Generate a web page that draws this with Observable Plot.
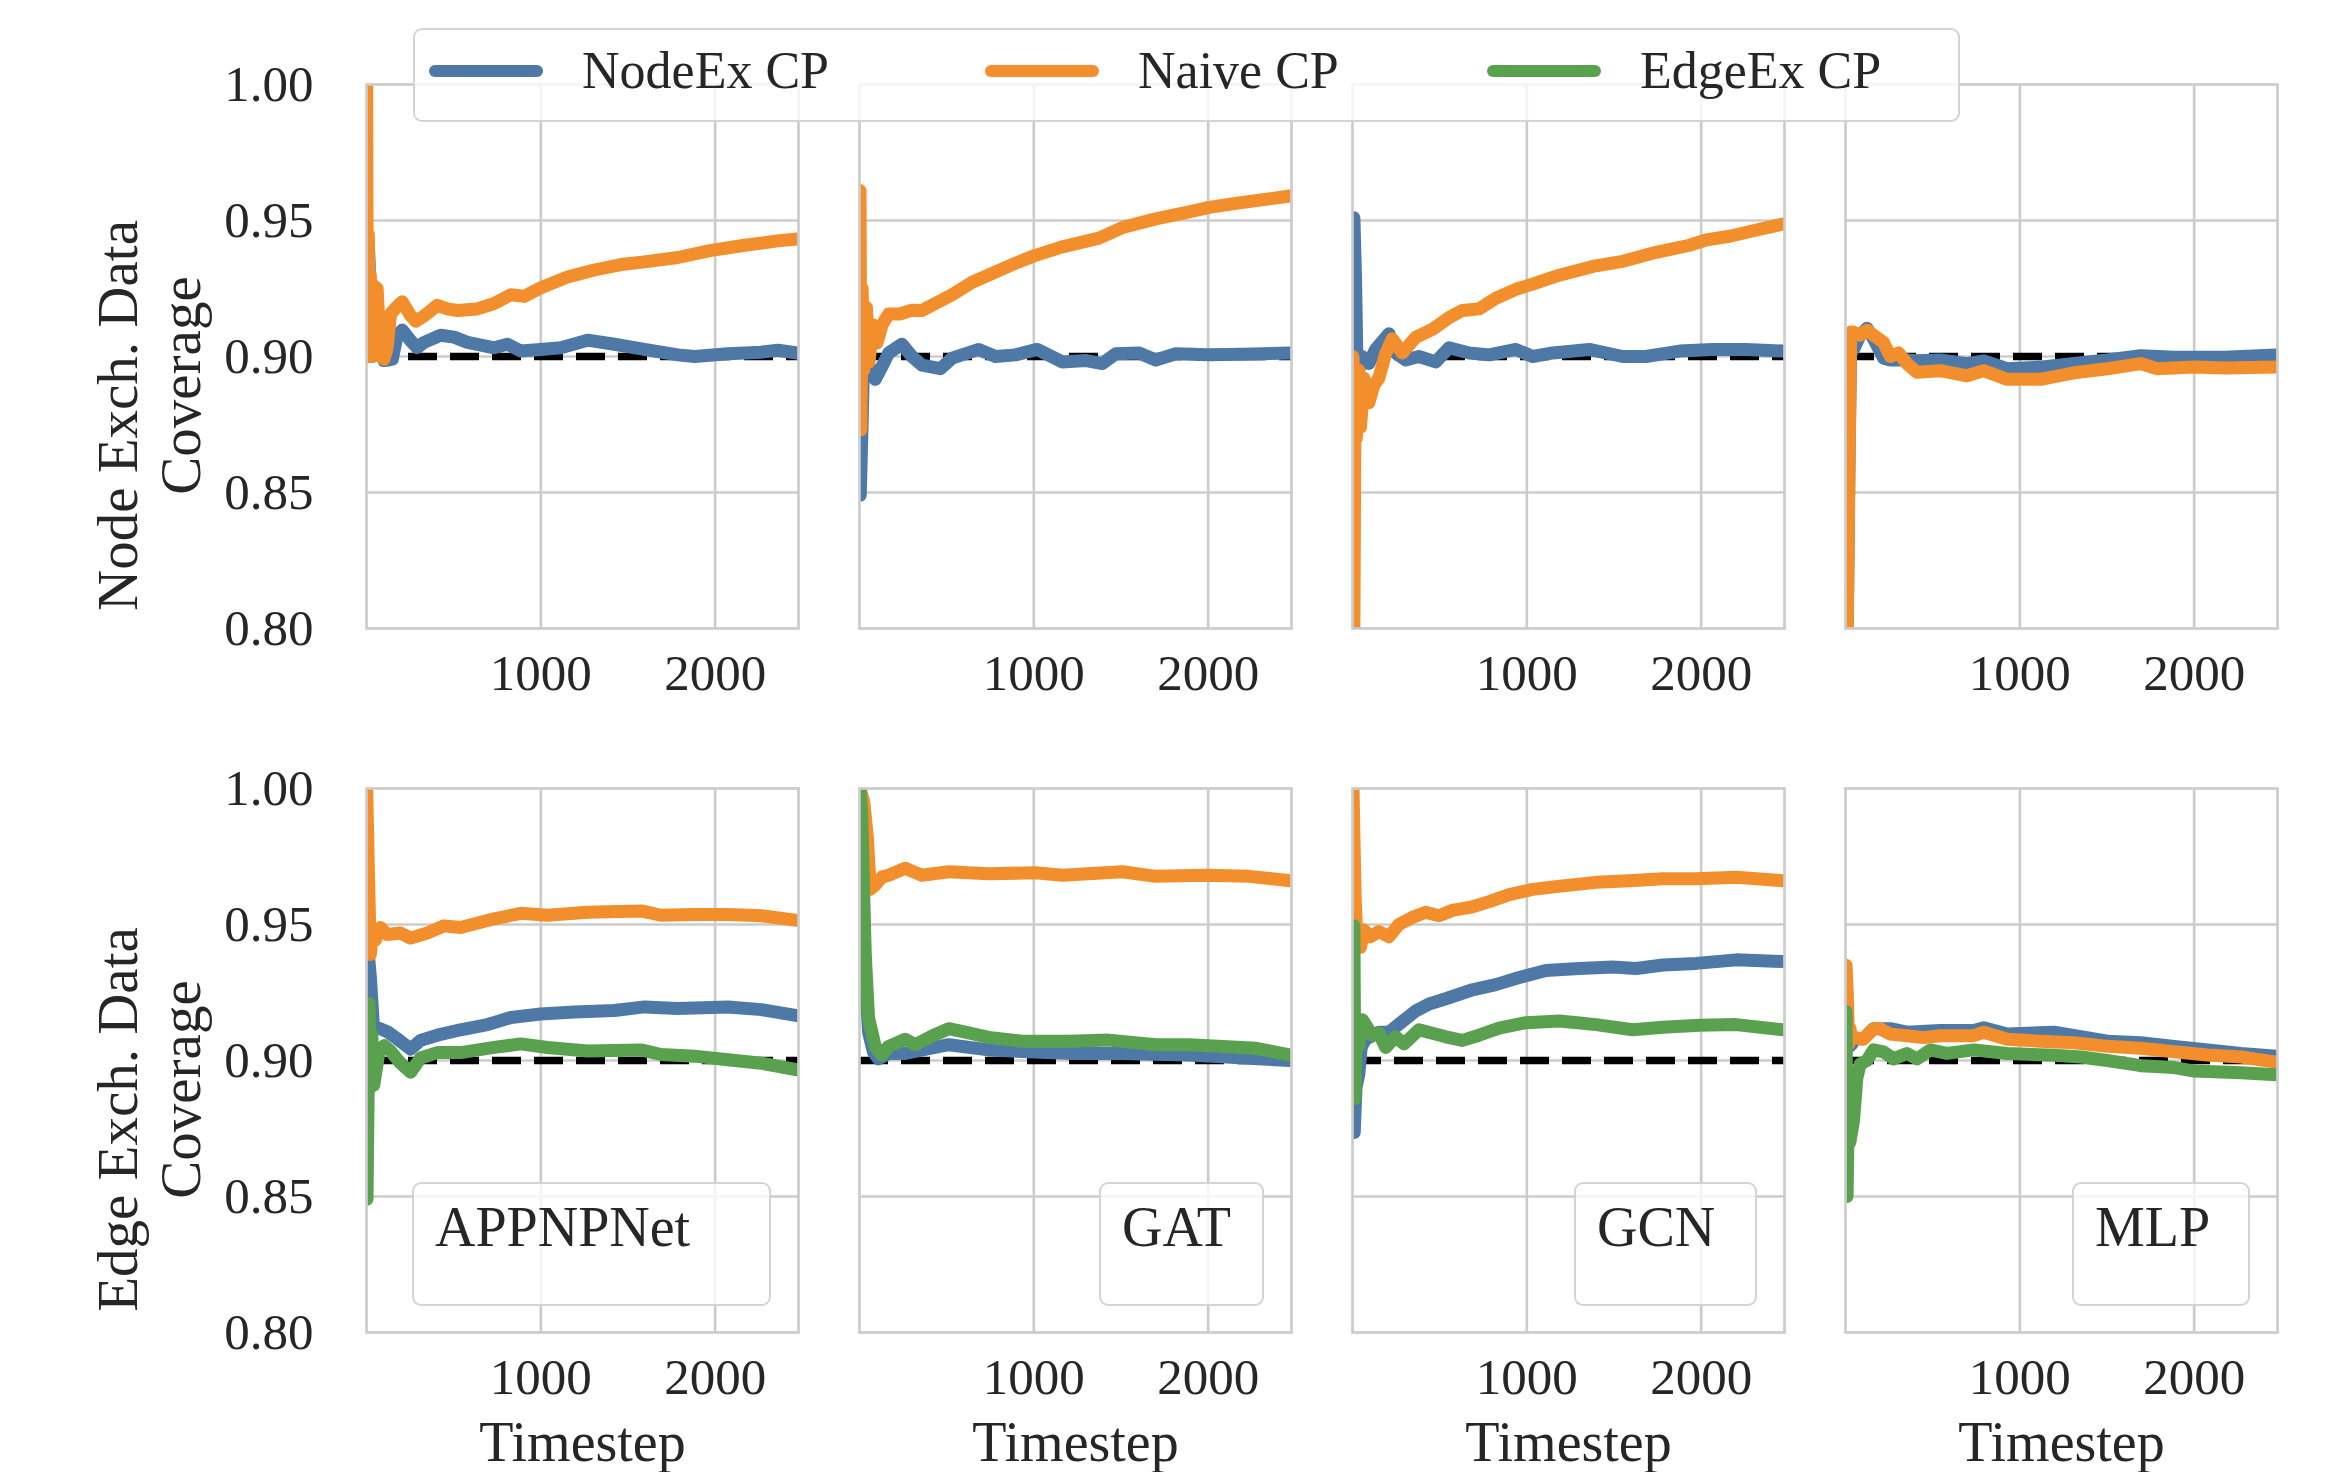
<!DOCTYPE html>
<html>
<head>
<meta charset="utf-8">
<script src="https://cdn.jsdelivr.net/npm/d3@7"></script>
<script src="https://cdn.jsdelivr.net/npm/@observablehq/plot@0.6"></script>
<style>
  body { margin: 0; background: #fff; }
  #wrap { position: relative; width: 2339px; height: 1472px; font-family: "Liberation Serif", "Times New Roman", serif; color: #262626; }
  #wrap svg { position: absolute; left: 0; top: 0; }
  .box { position: absolute; box-sizing: border-box; border: 2.5px solid rgba(204,204,204,0.85); border-radius: 9px; background: rgba(255,255,255,0.8); }
  .txt { position: absolute; white-space: nowrap; line-height: 1em; }
  .handle { position: absolute; height: 12px; border-radius: 6px; }
</style>
</head>
<body>
<div id="wrap"></div>
<script>
// ---------------- data ----------------
const models = ["APPNPNet", "GAT", "GCN", "MLP"];
const rows = ["Node Exch. Data", "Edge Exch. Data"];
const methods = ["NodeEx CP", "Naive CP", "EdgeEx CP"];
const colors = ["#4e79a7", "#f28e2b", "#59a14f"];
const xTicks = [1000, 2000];
const yTicks = [0.80, 0.85, 0.90, 0.95, 1.00];
const yGrid = [0.85, 0.90, 0.95];
const target = [0.90];

// Node exchangeability data (top row)
const node_APPNPNet_NodeEx = [[2,0.900],[8,0.944],[15,0.935],[23,0.905],[33,0.900],[45,0.903],[61,0.9026],[80,0.9026],[100,0.8985],[125,0.8987],[148,0.8990],[176,0.9078],[205,0.9097],[253,0.9058],[291,0.9032],[330,0.9052],[425,0.9078],[502,0.9071],[579,0.9052],[636,0.9045],[732,0.9032],[809,0.9045],[885,0.9020],[1000,0.9026],[1115,0.9032],[1268,0.9060],[1422,0.9045],[1594,0.9026],[1786,0.9006],[1882,0.9000],[2073,0.9010],[2265,0.9016],[2360,0.9023],[2470,0.9013]];
const node_APPNPNet_Naive = [[1,1.000],[5,0.900],[10,0.945],[15,0.905],[22,0.930],[30,0.900],[42,0.926],[61,0.925],[80,0.900],[100,0.899],[118,0.903],[138,0.9156],[170,0.9180],[205,0.9201],[253,0.9150],[282,0.9130],[330,0.9149],[406,0.9188],[464,0.9175],[521,0.9169],[636,0.9175],[732,0.9195],[828,0.9227],[904,0.9221],[1000,0.9253],[1153,0.9292],[1307,0.9318],[1460,0.9338],[1594,0.9348],[1786,0.9364],[1977,0.9390],[2169,0.9409],[2360,0.9425],[2470,0.9432]];

const node_GAT_NodeEx = [[4,0.849],[15,0.875],[23,0.898],[42,0.893],[60,0.896],[90,0.8916],[138,0.8974],[167,0.9013],[243,0.9045],[301,0.9000],[358,0.8968],[464,0.8955],[531,0.8994],[684,0.9026],[780,0.9000],[895,0.9006],[1019,0.9026],[1163,0.8980],[1300,0.8985],[1393,0.8974],[1470,0.9010],[1604,0.9013],[1699,0.8987],[1815,0.9010],[2000,0.9006],[2200,0.9008],[2470,0.9013]];
const node_GAT_Naive = [[3,0.961],[8,0.873],[15,0.925],[25,0.895],[40,0.918],[55,0.898],[75,0.9117],[100,0.9050],[130,0.9117],[167,0.9156],[230,0.9156],[300,0.9170],[358,0.9169],[435,0.9195],[531,0.9227],[646,0.9273],[761,0.9305],[876,0.9338],[1000,0.9370],[1163,0.9403],[1374,0.9435],[1508,0.9474],[1699,0.9506],[1891,0.9532],[2006,0.9548],[2178,0.9565],[2470,0.9590]];

const node_GCN_NodeEx = [[2,0.895],[8,0.951],[17,0.930],[27,0.893],[40,0.896],[56,0.9000],[94,0.8974],[132,0.9026],[209,0.9084],[247,0.9013],[305,0.8987],[381,0.9000],[477,0.8980],[554,0.9032],[669,0.9013],[784,0.9006],[937,0.9026],[1033,0.9000],[1148,0.9013],[1358,0.9026],[1550,0.9000],[1684,0.9000],[1876,0.9020],[2067,0.9026],[2259,0.9026],[2470,0.9020]];
const node_GCN_Naive = [[3,0.900],[8,0.800],[14,0.880],[22,0.870],[35,0.895],[46,0.874],[65,0.892],[94,0.883],[123,0.8896],[151,0.8920],[190,0.9010],[228,0.9065],[285,0.9013],[362,0.9070],[458,0.9100],[554,0.9143],[630,0.9169],[726,0.9175],[822,0.9214],[937,0.9247],[1033,0.9266],[1186,0.9299],[1378,0.9331],[1550,0.9350],[1742,0.9383],[1933,0.9409],[2029,0.9429],[2163,0.9442],[2336,0.9468],[2470,0.9487]];

const node_MLP_NodeEx = [[10,0.800],[20,0.860],[30,0.905],[46,0.9026],[84,0.9078],[123,0.9104],[161,0.9065],[218,0.8994],[257,0.8987],[352,0.8987],[410,0.8984],[544,0.8987],[697,0.8974],[793,0.8984],[927,0.8955],[1119,0.8961],[1310,0.8974],[1502,0.8987],[1693,0.9003],[1889,0.8997],[2173,0.8997],[2470,0.9006]];
const node_MLP_Naive = [[10,0.800],[20,0.860],[30,0.909],[46,0.9090],[84,0.9078],[123,0.9097],[161,0.9078],[218,0.9052],[257,0.9000],[305,0.9013],[352,0.8974],[410,0.8942],[544,0.8948],[697,0.8929],[793,0.8948],[927,0.8916],[1119,0.8916],[1310,0.8940],[1502,0.8955],[1693,0.8974],[1789,0.8955],[2000,0.8961],[2173,0.8958],[2470,0.8961]];

// Edge exchangeability data (bottom row)
const edge_APPNPNet_NodeEx = [[3,0.925],[12,0.938],[23,0.930],[40,0.912],[71,0.9119],[119,0.9106],[176,0.9080],[253,0.9042],[310,0.9074],[406,0.9093],[540,0.9113],[694,0.9132],[828,0.9158],[1000,0.9171],[1192,0.9178],[1422,0.9184],[1594,0.9197],[1786,0.9191],[2073,0.9197],[2265,0.9187],[2470,0.9165]];
const edge_APPNPNet_Naive = [[1,1.000],[12,0.966],[22,0.939],[30,0.944],[52,0.9444],[80,0.9489],[119,0.9463],[195,0.9469],[253,0.9450],[349,0.9469],[445,0.9495],[540,0.9489],[732,0.9521],[885,0.9541],[1038,0.9534],[1268,0.9545],[1575,0.9550],[1690,0.9534],[1882,0.9537],[2073,0.9537],[2265,0.9532],[2470,0.9515]];
const edge_APPNPNet_EdgeEx = [[3,0.849],[8,0.880],[15,0.921],[23,0.890],[30,0.910],[42,0.891],[71,0.9029],[100,0.9055],[138,0.9035],[195,0.8990],[253,0.8957],[310,0.9009],[406,0.9029],[540,0.9029],[732,0.9048],[885,0.9061],[1038,0.9048],[1268,0.9035],[1575,0.9039],[1690,0.9022],[1882,0.9016],[2073,0.9003],[2265,0.8990],[2470,0.8966]];

const edge_GAT_NodeEx = [[3,1.000],[20,0.960],[33,0.930],[52,0.9104],[80,0.9030],[109,0.9006],[167,0.9026],[262,0.9026],[512,0.9058],[741,0.9039],[971,0.9032],[1220,0.9026],[1508,0.9026],[1891,0.9020],[2470,0.9000]];
const edge_GAT_Naive = [[3,1.000],[25,0.995],[45,0.982],[62,0.963],[90,0.9645],[130,0.9675],[167,0.9681],[262,0.9707],[358,0.9681],[512,0.9694],[741,0.9687],[1010,0.9690],[1163,0.9681],[1508,0.9694],[1699,0.9677],[1987,0.9681],[2236,0.9677],[2470,0.9661]];
const edge_GAT_EdgeEx = [[3,1.000],[13,0.990],[33,0.939],[52,0.9156],[90,0.9052],[128,0.9020],[167,0.9052],[262,0.9078],[320,0.9058],[416,0.9090],[512,0.9117],[607,0.9104],[741,0.9085],[933,0.9071],[1201,0.9071],[1431,0.9075],[1699,0.9058],[1891,0.9058],[2274,0.9045],[2470,0.9020]];

const edge_GCN_NodeEx = [[2,0.905],[10,0.8735],[20,0.890],[36,0.8948],[50,0.905],[75,0.9078],[151,0.9104],[209,0.9104],[285,0.9143],[362,0.9182],[439,0.9208],[535,0.9227],[688,0.9260],[822,0.9279],[956,0.9305],[1109,0.9331],[1301,0.9338],[1493,0.9344],[1627,0.9338],[1780,0.9351],[1972,0.9357],[2201,0.9370],[2470,0.9364]];
const edge_GCN_Naive = [[3,1.000],[15,0.960],[25,0.945],[46,0.9416],[65,0.9480],[103,0.9455],[151,0.9474],[209,0.9455],[266,0.9500],[343,0.9526],[420,0.9545],[496,0.9532],[573,0.9552],[688,0.9565],[784,0.9584],[899,0.9610],[1033,0.9629],[1205,0.9642],[1397,0.9655],[1588,0.9661],[1780,0.9668],[1972,0.9668],[2201,0.9674],[2470,0.9661]];
const edge_GCN_EdgeEx = [[3,0.930],[8,0.9495],[14,0.886],[22,0.915],[35,0.905],[56,0.9150],[75,0.9132],[113,0.9093],[151,0.9100],[190,0.9048],[247,0.9087],[295,0.9061],[381,0.9113],[535,0.9087],[630,0.9074],[726,0.9093],[841,0.9119],[994,0.9139],[1186,0.9145],[1397,0.9132],[1607,0.9113],[1780,0.9122],[1991,0.9130],[2201,0.9132],[2470,0.9113]];

const edge_MLP_NodeEx = [[3,0.925],[12,0.910],[20,0.905],[36,0.906],[56,0.908],[103,0.908],[161,0.9117],[257,0.9117],[352,0.9104],[544,0.9110],[736,0.9110],[793,0.9120],[927,0.9097],[1197,0.9104],[1502,0.9071],[1694,0.9065],[1885,0.9052],[2077,0.9039],[2269,0.9026],[2470,0.9016]];
const edge_MLP_Naive = [[3,0.935],[10,0.925],[18,0.906],[25,0.912],[36,0.9078],[56,0.9084],[103,0.9078],[161,0.9117],[199,0.9117],[257,0.9097],[352,0.9091],[448,0.9084],[544,0.9091],[736,0.9091],[793,0.9104],[927,0.9078],[1119,0.9071],[1310,0.9065],[1502,0.9052],[1694,0.9045],[1885,0.9032],[2077,0.9020],[2269,0.9013],[2470,0.8994]];
const edge_MLP_EdgeEx = [[3,0.918],[9,0.850],[16,0.880],[25,0.870],[46,0.8779],[65,0.8935],[84,0.8987],[123,0.9000],[161,0.9039],[218,0.9032],[276,0.9006],[352,0.9026],[410,0.9006],[487,0.9039],[582,0.9026],[736,0.9039],[927,0.9026],[1196,0.9019],[1349,0.9013],[1502,0.9000],[1694,0.8981],[1885,0.8974],[2000,0.8961],[2269,0.8955],[2470,0.8948]];

// series registry: [row, model, method, values]
const series = [
  [rows[0], "APPNPNet", "NodeEx CP", node_APPNPNet_NodeEx],
  [rows[0], "APPNPNet", "Naive CP", node_APPNPNet_Naive],
  [rows[0], "GAT", "NodeEx CP", node_GAT_NodeEx],
  [rows[0], "GAT", "Naive CP", node_GAT_Naive],
  [rows[0], "GCN", "NodeEx CP", node_GCN_NodeEx],
  [rows[0], "GCN", "Naive CP", node_GCN_Naive],
  [rows[0], "MLP", "NodeEx CP", node_MLP_NodeEx],
  [rows[0], "MLP", "Naive CP", node_MLP_Naive],
  [rows[1], "APPNPNet", "NodeEx CP", edge_APPNPNet_NodeEx],
  [rows[1], "APPNPNet", "Naive CP", edge_APPNPNet_Naive],
  [rows[1], "APPNPNet", "EdgeEx CP", edge_APPNPNet_EdgeEx],
  [rows[1], "GAT", "NodeEx CP", edge_GAT_NodeEx],
  [rows[1], "GAT", "Naive CP", edge_GAT_Naive],
  [rows[1], "GAT", "EdgeEx CP", edge_GAT_EdgeEx],
  [rows[1], "GCN", "NodeEx CP", edge_GCN_NodeEx],
  [rows[1], "GCN", "Naive CP", edge_GCN_Naive],
  [rows[1], "GCN", "EdgeEx CP", edge_GCN_EdgeEx],
  [rows[1], "MLP", "NodeEx CP", edge_MLP_NodeEx],
  [rows[1], "MLP", "Naive CP", edge_MLP_Naive],
  [rows[1], "MLP", "EdgeEx CP", edge_MLP_EdgeEx]
];

// ---------------- build ----------------
const table = [];
for (const [row, model, method, values] of series) {
  for (const [t, v] of values) table.push({row, model, method, key: row + "|" + model + "|" + method, t, v});
}

const TEXT = "#262626";
const plot = Plot.plot({
  width: 2339,
  height: 1472,
  marginLeft: 366,
  marginRight: 62,
  marginTop: 83.5,
  marginBottom: 140,
  style: {fontFamily: "'Liberation Serif', 'Times New Roman', serif", fontSize: "51px", color: TEXT, background: "white", overflow: "visible"},
  fx: {domain: models, padding: 0.1245, axis: null, label: null},
  fy: {domain: rows, padding: 0.2278, axis: null, label: null},
  x: {domain: [0, 2478]},
  y: {domain: [0.8, 1.0]},
  color: {domain: methods, range: colors},
  marks: [
    Plot.gridX({ticks: xTicks, stroke: "#cccccc", strokeOpacity: 1, strokeWidth: 2.7}),
    Plot.gridY({ticks: yGrid, stroke: "#cccccc", strokeOpacity: 1, strokeWidth: 2.7}),
    Plot.ruleY(target, {stroke: "black", strokeWidth: 7.5, strokeDasharray: "29,13"}),
    Plot.line(table, {x: "t", y: "v", z: "key", stroke: "method", fx: "model", fy: "row",
      strokeWidth: 13, strokeLinejoin: "round", strokeLinecap: "round", clip: true}),
    Plot.frame({stroke: "#cccccc", strokeWidth: 2.7}),
    Plot.axisY({ticks: yTicks, tickFormat: d3.format(".2f"), tickSize: 0, tickPadding: 53, label: null, fill: TEXT}),
    Plot.axisX({ticks: xTicks, tickFormat: d3.format("d"), tickSize: 0, tickPadding: 25, label: null, facetAnchor: null, fill: TEXT}),
    Plot.text(models.map(m => ({model: m, row: rows[1]})), {
      fx: "model", fy: "row", frameAnchor: "bottom", lineAnchor: "middle", textAnchor: "middle",
      dy: 111, text: () => "Timestep", fontSize: 56, fill: TEXT
    }),
    Plot.text(rows.map(r => ({model: models[0], row: r, label: r})), {
      fx: "model", fy: "row", frameAnchor: "left", textAnchor: "middle", lineAnchor: "middle",
      rotate: -90, dx: -248, dy: 59, text: "label", fontSize: 57, fill: TEXT
    }),
    Plot.text(rows.map(r => ({model: models[0], row: r, label: "Coverage"})), {
      fx: "model", fy: "row", frameAnchor: "left", textAnchor: "middle", lineAnchor: "middle",
      rotate: -90, dx: -185, dy: 29, text: "label", fontSize: 57, fill: TEXT
    })
  ]
});

const wrap = document.getElementById("wrap");
wrap.appendChild(plot);

// ---------------- overlays (legend & model boxes) ----------------
const fx = plot.scale("fx");
const fy = plot.scale("fy");
const bw = fx.bandwidth;

function addText(str, left, baseline, size) {
  const s = document.createElement("div");
  s.className = "txt";
  s.textContent = str;
  s.style.fontSize = size + "px";
  s.style.left = left + "px";
  s.style.top = (baseline - size * 0.8375) + "px";
  wrap.appendChild(s);
  return s;
}
function addBox(left, top, width, height) {
  const b = document.createElement("div");
  b.className = "box";
  b.style.left = left + "px"; b.style.top = top + "px";
  b.style.width = width + "px"; b.style.height = height + "px";
  wrap.appendChild(b);
  return b;
}

// legend
const legendLeft = fx.apply(models[0]) + 47;
addBox(legendLeft, 28, 1547, 94);
const legendHandleOffsets = [16, 572, 1074];
methods.forEach((m, i) => {
  const h = document.createElement("div");
  h.className = "handle";
  h.style.background = colors[i];
  h.style.left = (legendLeft + legendHandleOffsets[i]) + "px";
  h.style.top = (71 - 6) + "px";
  h.style.width = "114px";
  wrap.appendChild(h);
  addText(m, legendLeft + legendHandleOffsets[i] + 153, 89, 52);
});

// model name boxes in bottom row
const modelBoxWidth = {APPNPNet: 359, GAT: 165, GCN: 183, MLP: 178};
const rowTop = fy.apply(rows[1]);
models.forEach(m => {
  const right = fx.apply(m) + bw - 27;
  const left = right - modelBoxWidth[m];
  addBox(left, rowTop + 394, modelBoxWidth[m], 124);
  addText(m, left + 23, rowTop + 458, 56);
});
</script>
</body>
</html>
